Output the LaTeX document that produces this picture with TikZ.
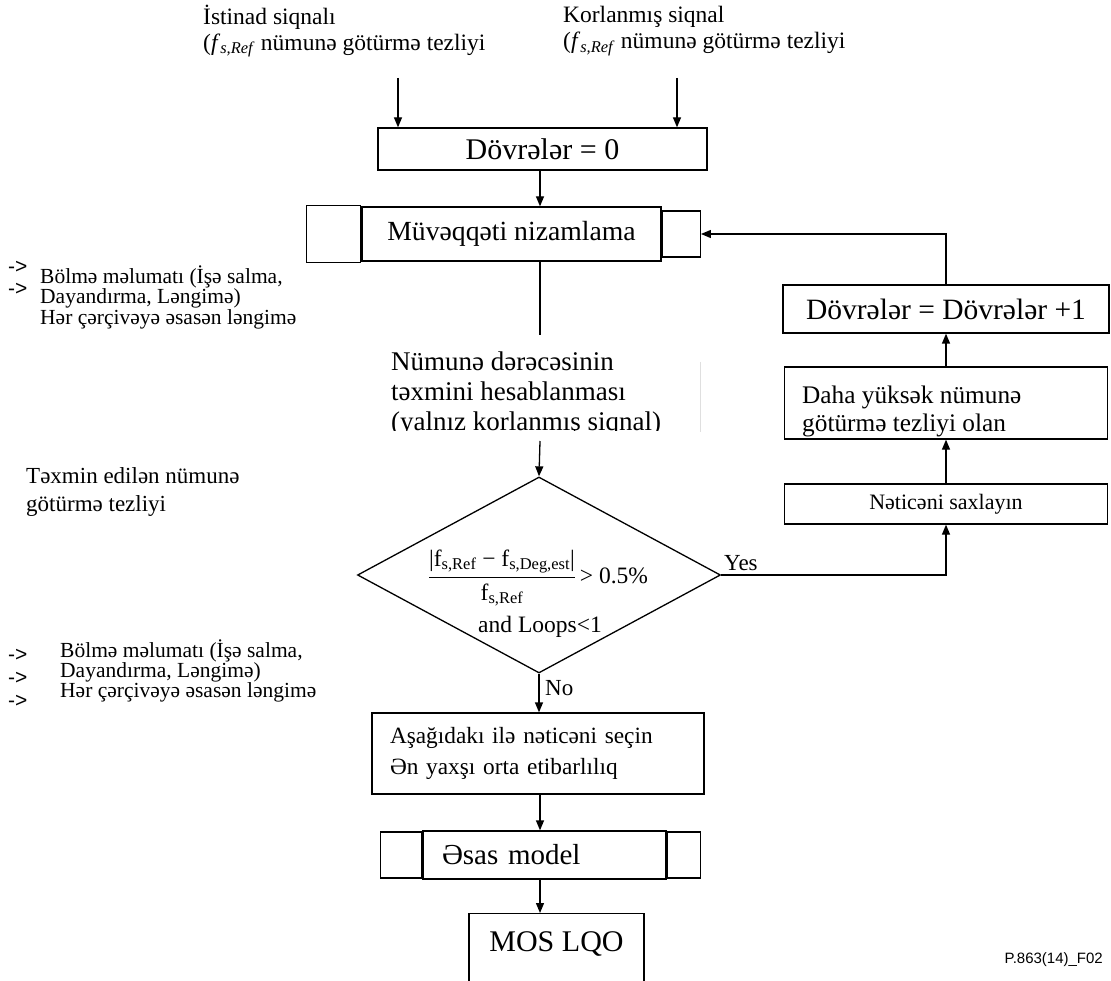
\documentclass[tikz,border=0pt]{standalone}
\usepackage{fontspec}
\setmainfont{Liberation Serif}
\newfontfamily\arialfont{Liberation Sans}
\usetikzlibrary{shapes.geometric,arrows.meta}

\newcommand\fsize[2]{\fontsize{#1}{#2}\selectfont}

\tikzset{
  ->/.style={draw=black,line width=1.3pt,-{Triangle[length=10pt,width=8pt]}},
  box/.style={draw=black,line width=1.3pt,rectangle,inner sep=0pt},
  txt/.style={inner sep=0pt,align=left,anchor=west},
  sidearrow/.style={txt,font=\arialfont\fsize{21}{22}}
}

\begin{document}
\begin{tikzpicture}[x=1pt,y=-1pt]
    \clip (0,0) rectangle (1111,981);
    \coordinate (spine) at (540,0);

    % inputs
    \node[txt,font=\fsize{23.5}{26}] (refsig) at (203,31) {İstinad siqnalı\\(\textit{f}\textsubscript{\textit{s,Ref}} nümunə götürmə tezliyi};
    \node[txt,font=\fsize{23.5}{26}] (degsig) at (563,31) {Korlanmış siqnal\\(\textit{f}\textsubscript{\textit{s,Ref}} nümunə götürmə tezliyi};
    \coordinate (refin) at (398,78);
    \coordinate (degin) at (677,78);

    \node[box,minimum width=329,minimum height=42,font=\fsize{30}{32}] (loops0) at (542.5,149) {Dövrələr = 0};
    \draw[->] (refin) -- (refin |- loops0.north);
    \draw[->] (degin) -- (degin |- loops0.north);

    % time alignment
    \node[box,minimum width=299,minimum height=54,font=\fsize{27.7}{30}] (align) at (511.5,234) {Müvəqqəti nizamlama};
    \node[box,minimum width=54,minimum height=57,anchor=east] (alignL) at (align.west) {};
    \node[box,minimum width=38,minimum height=46,anchor=west] (alignR) at (align.east) {};
    \draw[->] (loops0.south -| spine) -- (align.north -| spine);

    % sample rate estimation
    \coordinate (estend) at (540,335);
    \draw[line width=1.3pt] (align.south -| spine) -- (estend);
    \begin{scope}
      \clip (380,340) rectangle (710,430);
      \node[txt,font=\fsize{27}{30}] (est) at (391,394) {Nümunə dərəcəsinin\\təxmini hesablanması\\(yalnız korlanmış siqnal)};
    \end{scope}
    \draw[gray!25,line width=1pt] (700,362) -- (700,432);
    \coordinate (eststart) at (540,441);

    % decision
    \node[draw,diamond,line width=1.3pt,minimum width=363,minimum height=196,inner sep=0pt] (dec) at (539,575) {};
    \draw[->] (eststart) -- (dec.north);
    \node[font=\fsize{23.5}{26},inner sep=0pt] (cond) at (538,578) {$\displaystyle\frac{\textrm{|f\textsubscript{s,Ref} − f\textsubscript{s,Deg,est}|}\rule[-7pt]{0pt}{7pt}}{\rule{0pt}{21pt}\textrm{f\textsubscript{s,Ref}}}$\,> 0.5\%};
    \node[font=\fsize{23.5}{26},inner sep=0pt] (condb) at (540,627) {and Loops<1};
    \node[txt,font=\fsize{23}{26}] (yes) at (724,563) {Yes};

    % right branch
    \node[box,minimum width=323,minimum height=40,font=\fsize{22}{25}] (keep) at (946,504) {Nəticəni saxlayın};
    \node[box,minimum width=323,minimum height=72] (higher) at (946,403) {};
    \begin{scope}
      \clip (higher.south west) rectangle ([yshift=3pt]higher.north east);
      \node[txt,font=\fsize{25.3}{28}] (highertxt) at (802,411) {Daha yüksək nümunə\\götürmə tezliyi olan};
    \end{scope}
    \node[box,minimum width=326,minimum height=48,font=\fsize{29.5}{32}] (loops1) at (946,309) {Dövrələr = Dövrələr +1};
    \draw[->] (dec.east) -| (keep.south);
    \draw[->] (keep.north) -- (higher.south);
    \draw[->] (higher.north) -- (loops1.south);
    \draw[->] (loops1.north) |- (alignR.east);

    % no branch
    \node[box,minimum width=332,minimum height=81,font=\fsize{23.3}{31},align=left,text width=296] (select) at (538,753.5) {Aşağıdakı ilə nəticəni seçin\\Ən yaxşı orta etibarlılıq};
    \draw[->] (dec.south) -- (dec.south |- select.north);
    \node[txt,font=\fsize{23}{26}] (no) at (545,688) {No};

    \node[box,minimum width=243,minimum height=48,font=\fsize{29}{32},align=left,text width=205] (model) at (544.5,855) {Əsas model};
    \node[box,minimum width=41,minimum height=46,anchor=east] (modelL) at (model.west) {};
    \node[box,minimum width=33,minimum height=46,anchor=west] (modelR) at (model.east) {};
    \draw[->] (select.south -| spine) -- (model.north -| spine);

    \node[box,minimum width=175,minimum height=94,anchor=north] (mos) at (556.5,913) {};
    \node[font=\fsize{30}{32}] (mostxt) at (556.5,944) {MOS LQO};
    \draw[->] (model.south -| spine) -- (mos.north -| spine);

    % side notes
    \node[sidearrow] (arrA) at (8,267) {->};
    \node[sidearrow] (arrB) at (8,289) {->};
    \node[txt,font=\fsize{21.5}{20.5}] (segA) at (40,297) {Bölmə məlumatı (İşə salma,\\Dayandırma, Ləngimə)\\Hər çərçivəyə əsasən ləngimə};
    \node[txt,font=\fsize{23}{28}] (estrate) at (26,492) {Təxmin edilən nümunə\\götürmə tezliyi};
    \foreach \y in {655,678,701}
      \node[sidearrow] (arr\y) at (8,\y) {->};
    \node[txt,font=\fsize{21.5}{20}] (segB) at (60,671) {Bölmə məlumatı (İşə salma,\\Dayandırma, Ləngimə)\\Hər çərçivəyə əsasən ləngimə};
    \node[anchor=east,inner sep=0pt,font=\arialfont\fsize{15}{18}] (figid) at (1103,960) {P.863(14)\_F02};
\end{tikzpicture}
\end{document}
